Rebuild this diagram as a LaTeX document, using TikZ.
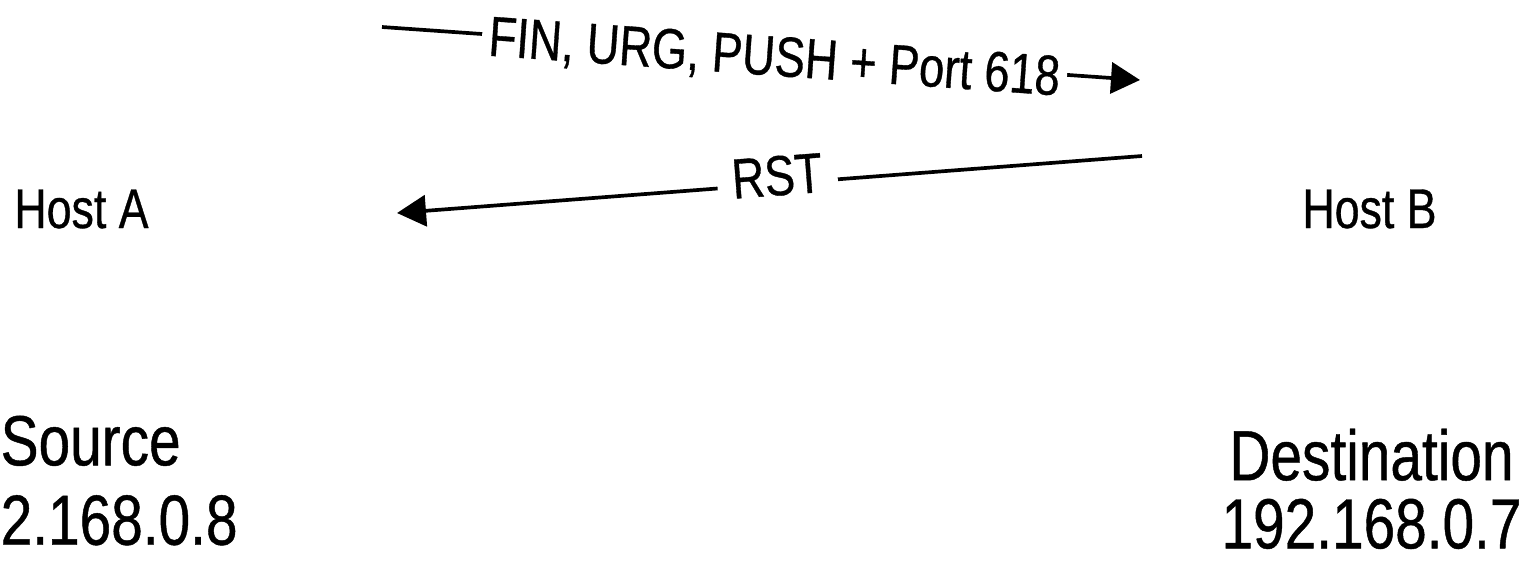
\documentclass[tikz,border=0pt]{standalone}
\usepackage{fontspec}
\setmainfont{Liberation Sans}[FakeStretch=0.8, FakeBold=0.6]
\usepackage{tikz}
\usetikzlibrary{positioning, arrows.meta, calc}

\begin{document}
\begin{tikzpicture}[
    host/.style={inner sep=0pt, font=\fontsize{15.9}{18}\selectfont},
    addr/.style={inner sep=0pt, font=\fontsize{20.2}{22.6}\selectfont},
    msg/.style={line width=1.05pt, -{Triangle[length=0.29cm, width=0.31cm]}},
    lbl/.style={fill=white, inner ysep=1pt, font=\fontsize{16.1}{18}\selectfont}
]
\useasboundingbox (0,0) rectangle (15.28,-5.62);
% Left — Host A
\node[host, anchor=base] (host_a) at (0.815,-2.28) {Host A};
\node[addr, anchor=north west, align=left] (src_a) at (0,-4.15)
      {Source \\ 2.168.0.8};
% Right — Host B
\node[host, anchor=base] (host_b) at (13.695,-2.28) {Host B};
\node[addr, anchor=north, align=center] (dst_b) at (13.715,-4.28)
      {Destination \\[-3.2pt] 192.168.0.7};
% Messages
\coordinate (fin_l) at (3.82,-0.27);
\coordinate (fin_r) at (11.40,-0.80);
\coordinate (rst_r) at (11.42,-1.56);
\coordinate (rst_l) at (3.97,-2.13);
\draw[msg] (fin_l) -- node[lbl, sloped, pos=0.518, inner xsep=0.07cm, yshift=-0.05cm]
      {FIN, URG, PUSH + Port 618} (fin_r);
\draw[msg] (rst_r) -- node[lbl, sloped, pos=0.489, inner xsep=0.15cm, yshift=0.08cm]
      {RST} (rst_l);
\end{tikzpicture}
\end{document}
